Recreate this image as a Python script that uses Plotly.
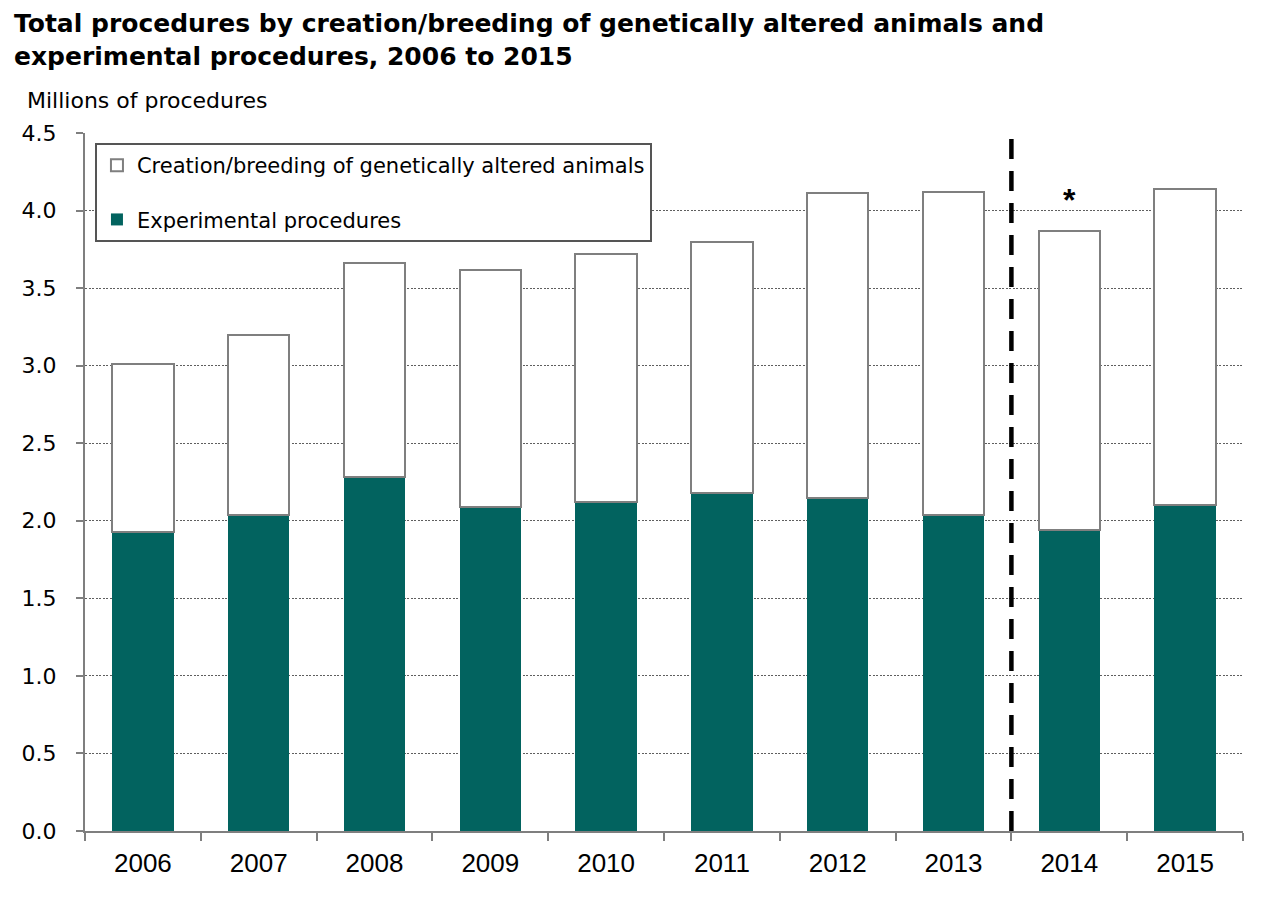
import plotly.graph_objects as go

years = ["2006", "2007", "2008", "2009", "2010", "2011", "2012", "2013", "2014", "2015"]
experimental = [1.93, 2.04, 2.28, 2.09, 2.12, 2.18, 2.15, 2.04, 1.94, 2.10]
creation_breeding = [1.08, 1.16, 1.38, 1.53, 1.60, 1.62, 1.96, 2.08, 1.93, 2.04]
y_ticks = [0, 0.5, 1.0, 1.5, 2.0, 2.5, 3.0, 3.5, 4.0, 4.5]
break_year = "2014"
starred_year = "2014"

GREEN = "#02635f"
GREY = "#7f7f7f"
WIDE = "DejaVu Sans, Verdana, sans-serif"
ARIAL = "Liberation Sans, Arial, sans-serif"

fig = go.Figure()
fig.add_trace(go.Bar(
    x=years, y=experimental, name="Experimental procedures",
    legendgroup="exp", legendrank=2,
    marker=dict(color=GREEN, line=dict(width=0)),
))
fig.add_trace(go.Bar(
    x=years, y=creation_breeding, name="Creation/breeding of genetically altered animals",
    legendgroup="cre", legendrank=1,
    marker=dict(color="white", line=dict(color=GREY, width=2)),
))

bi = years.index(break_year)
fig.add_shape(type="line", xref="x", yref="y",
              x0=bi - 0.5, x1=bi - 0.5, y0=0, y1=4.49,
              line=dict(color="black", width=4.5, dash="20px,12px"))

si = years.index(starred_year)
fig.add_annotation(xref="x", yref="y", x=si, y=experimental[si] + creation_breeding[si] + 0.2,
                   text="<b>*</b>", showarrow=False, yanchor="middle",
                   font=dict(size=32, color="black", family=ARIAL))

fig.add_annotation(xref="paper", yref="paper", x=-0.0518, y=1.047,
                   xanchor="left", yanchor="middle", showarrow=False,
                   text="Millions of procedures",
                   font=dict(size=22, color="black", family=WIDE))

fig.add_annotation(xref="paper", yref="paper", x=-0.063, y=1.180,
                   xanchor="left", yanchor="top", align="left", showarrow=False,
                   text="<b>Total procedures by creation/breeding of genetically altered animals and<br>experimental procedures, 2006 to 2015</b>",
                   font=dict(size=25, color="black", family=WIDE))

fig.update_layout(
    width=1284, height=901,
    barmode="stack", bargap=0.47,
    paper_bgcolor="white", plot_bgcolor="white",
    margin=dict(l=77, r=49, t=125, b=78),
    font=dict(family=WIDE, color="black", size=21),
    legend=dict(
        x=0.0086, y=0.9857, xanchor="left", yanchor="top",
        bgcolor="white", bordercolor="#555555", borderwidth=2,
        font=dict(size=21, color="black", family=WIDE),
        traceorder="grouped", tracegroupgap=24,
    ),
    showlegend=True,
)

fig.update_xaxes(
    type="category", range=[-0.5, len(years) - 0.5], autorange=False,
    showline=True, linecolor=GREY, linewidth=2,
    ticks="outside", tickson="boundaries", ticklen=8, tickcolor=GREY, tickwidth=2,
    showgrid=False,
    ticklabelstandoff=8,
    tickfont=dict(size=26, color="black", family=ARIAL),
)
fig.update_yaxes(
    range=[0, 4.5], autorange=False, tickvals=y_ticks, ticktext=[f"{v:.1f}" for v in y_ticks],
    showline=True, linecolor=GREY, linewidth=2,
    ticks="outside", ticklen=7, tickcolor=GREY, tickwidth=2,
    showgrid=True, gridcolor="#5f5f5f", griddash="2px,1.5px", gridwidth=1.4,
    zeroline=False,
    ticklabelstandoff=15,
    tickfont=dict(size=22, color="black", family=WIDE),
)

fig.write_html("out.html")
